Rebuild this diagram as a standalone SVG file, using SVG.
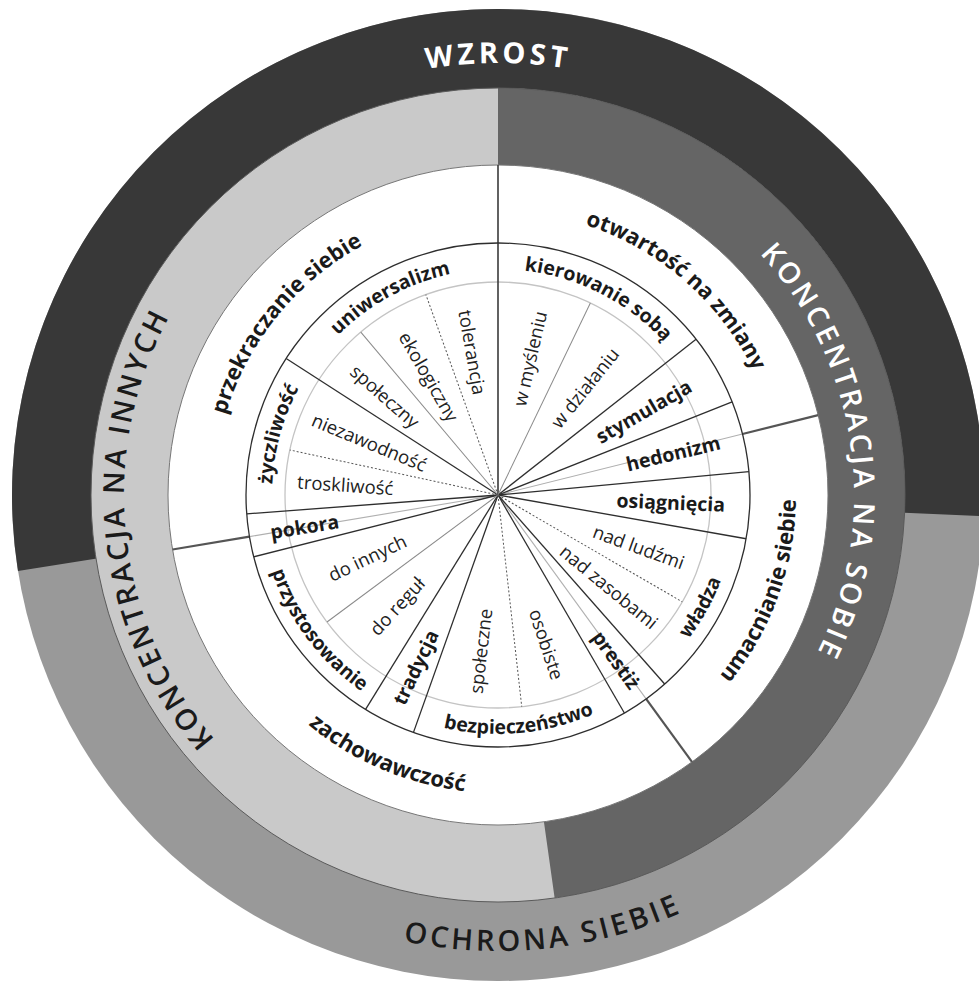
<svg xmlns="http://www.w3.org/2000/svg" xmlns:xlink="http://www.w3.org/1999/xlink" width="979" height="982" viewBox="0 0 979 982">
<style>
.t{font-family:"Open Sans","Noto Sans","Liberation Sans",sans-serif;fill:#1a1a1a}
.big{font-size:22px;font-weight:700}
.val{font-size:19.5px;font-weight:700}
.sub{font-size:18.5px;font-weight:400;fill:#222}
.ring{font-size:29px;font-weight:600;letter-spacing:3.3px}
.w{fill:#ffffff}
.vb{stroke:#2e2e2e;stroke-width:1.3}
.ss{stroke:#8a8a8a;stroke-width:1}
.sd{stroke:#555;stroke-width:1;stroke-dasharray:2 2}
.mi{stroke:#b0b0b0;stroke-width:1.1}
.mo{stroke:#555;stroke-width:2.2}
</style>
<defs>
<path id="cw226" d="M272,495 A226,226 0 0 1 724,495"/>
<path id="ccw239" d="M259,495 A239,239 0 0 0 737,495"/>
<path id="cw284" d="M214,495 A284,284 0 0 1 782,495"/>
<path id="ccw298" d="M200,495 A298,298 0 0 0 796,495"/>
<path id="cw432" d="M66,495 A432,432 0 0 1 930,495"/>
<path id="ccw456" d="M42,495 A456,456 0 0 0 954,495"/>
<path id="cw356" d="M142,495 A356,356 0 0 1 854,495"/>
<path id="cw374" d="M124,495 A374,374 0 0 1 872,495"/>
</defs>

<g id="outer-ring">
<circle cx="498" cy="495" r="486" fill="#999999"/>
<path d="M498,495 L17.98,571.03 A486,486 0 1 1 983.54,516.20 Z" fill="#383838"/>
</g>
<g id="middle-ring">
<circle cx="498" cy="495" r="407" fill="#c9c9c9"/>
<path d="M498,495 L498,88 A407,407 0 0 1 554.64,898.04 Z" fill="#656565"/>
<circle cx="498" cy="495" r="407" fill="none" stroke="#5a5a5a" stroke-width="1"/>
</g>
<g id="white-disc">
<circle cx="498" cy="495" r="330" fill="#ffffff" stroke="#777" stroke-width="1"/>
<circle cx="498" cy="495" r="213" fill="none" stroke="#c4c4c4" stroke-width="1.3"/>
</g>

<g id="connectors">
<g class="mi">
<line x1="498" y1="495" x2="750" y2="495" transform="rotate(346 498 495)"/>
<line x1="498" y1="495" x2="750" y2="495" transform="rotate(54 498 495)"/>
<line x1="498" y1="495" x2="750" y2="495" transform="rotate(170.5 498 495)"/>
</g>
<g class="mo">
<line x1="750" y1="495" x2="828" y2="495" transform="rotate(346 498 495)"/>
<line x1="750" y1="495" x2="828" y2="495" transform="rotate(54 498 495)"/>
<line x1="750" y1="495" x2="828" y2="495" transform="rotate(170.5 498 495)"/>
</g>
<line x1="498" y1="495" x2="498" y2="165" stroke="#3a3a3a" stroke-width="1.6"/>
<g class="vb">
<line x1="498" y1="495" x2="750" y2="495" transform="rotate(321.8 498 495)"/>
<line x1="498" y1="495" x2="750" y2="495" transform="rotate(338.3 498 495)"/>
<line x1="498" y1="495" x2="750" y2="495" transform="rotate(354.7 498 495)"/>
<line x1="498" y1="495" x2="750" y2="495" transform="rotate(10 498 495)"/>
<line x1="498" y1="495" x2="750" y2="495" transform="rotate(48.6 498 495)"/>
<line x1="498" y1="495" x2="750" y2="495" transform="rotate(59.9 498 495)"/>
<line x1="498" y1="495" x2="750" y2="495" transform="rotate(109.6 498 495)"/>
<line x1="498" y1="495" x2="750" y2="495" transform="rotate(121.7 498 495)"/>
<line x1="498" y1="495" x2="750" y2="495" transform="rotate(165.8 498 495)"/>
<line x1="498" y1="495" x2="750" y2="495" transform="rotate(175.7 498 495)"/>
<line x1="498" y1="495" x2="750" y2="495" transform="rotate(212.8 498 495)"/>
</g>
<g class="ss">
<line x1="498" y1="495" x2="711" y2="495" transform="rotate(295.7 498 495)"/>
<line x1="498" y1="495" x2="711" y2="495" transform="rotate(229.9 498 495)"/>
<line x1="498" y1="495" x2="711" y2="495" transform="rotate(143.4 498 495)"/>
</g>
<g class="sd">
<line x1="498" y1="495" x2="711" y2="495" transform="rotate(250.2 498 495)"/>
<line x1="498" y1="495" x2="711" y2="495" transform="rotate(192.2 498 495)"/>
<line x1="498" y1="495" x2="711" y2="495" transform="rotate(30.1 498 495)"/>
<line x1="498" y1="495" x2="711" y2="495" transform="rotate(83.6 498 495)"/>
</g>
<circle cx="498" cy="495" r="252" fill="none" stroke="#2e2e2e" stroke-width="1.3"/>
</g>

<g id="ring-labels">
<text class="t ring w" style="font-weight:700;letter-spacing:4px"><textPath href="#cw432" startOffset="50%" text-anchor="middle">WZROST</textPath></text>
<text class="t ring" style="letter-spacing:3.4px" transform="rotate(-6 498 495)"><textPath href="#ccw456" startOffset="50%" text-anchor="middle">OCHRONA SIEBIE</textPath></text>
<text class="t ring w" transform="rotate(82 498 495)"><textPath href="#cw356" startOffset="50%" text-anchor="middle">KONCENTRACJA NA SOBIE</textPath></text>
<text class="t ring" style="letter-spacing:2.9px" transform="rotate(-96 498 495)"><textPath href="#cw374" startOffset="50%" text-anchor="middle">KONCENTRACJA NA INNYCH</textPath></text>
</g>

<g id="higher-order">
<text class="t big" transform="rotate(-51 498 495)"><textPath href="#cw284" startOffset="50%" text-anchor="middle">przekraczanie siebie</textPath></text>
<text class="t big" transform="rotate(41 498 495)"><textPath href="#cw284" startOffset="50%" text-anchor="middle">otwartość na zmiany</textPath></text>
<text class="t big" transform="rotate(-70 498 495)"><textPath href="#ccw298" startOffset="50%" text-anchor="middle">umacnianie siebie</textPath></text>
<text class="t big" transform="rotate(23 498 495)"><textPath href="#ccw298" startOffset="50%" text-anchor="middle">zachowawczość</textPath></text>
</g>

<g id="values">
<text class="t val" transform="rotate(-28.6 498 495)"><textPath href="#cw226" startOffset="50%" text-anchor="middle">uniwersalizm</textPath></text>
<text class="t val" transform="rotate(27 498 495)"><textPath href="#cw226" startOffset="50%" text-anchor="middle">kierowanie sobą</textPath></text>
<text class="t val" transform="rotate(-74.5 498 495)"><textPath href="#cw226" startOffset="50%" text-anchor="middle">życzliwość</textPath></text>
<text class="t val" transform="rotate(-61 498 495)"><textPath href="#ccw239" startOffset="50%" text-anchor="middle">władza</textPath></text>
<text class="t val" transform="rotate(-5.25 498 495)"><textPath href="#ccw239" startOffset="50%" text-anchor="middle">bezpieczeństwo</textPath></text>
<text class="t val" transform="rotate(53 498 495)"><textPath href="#ccw239" startOffset="50%" text-anchor="middle">przystosowanie</textPath></text>
<text class="t val" text-anchor="middle" dominant-baseline="central" transform="rotate(-30 498 495) translate(666 495)">stymulacja</text>
<text class="t val" text-anchor="middle" dominant-baseline="central" transform="rotate(-13.5 498 495) translate(678 495)">hedonizm</text>
<text class="t val" text-anchor="middle" dominant-baseline="central" transform="rotate(2.35 498 495) translate(671 495)">osiągnięcia</text>
<text class="t val" text-anchor="middle" dominant-baseline="central" transform="rotate(54.25 498 495) translate(701 495)">prestiż</text>
<text class="t val" text-anchor="middle" dominant-baseline="central" transform="rotate(115.65 498 495) translate(689 495) rotate(180)">tradycja</text>
<text class="t val" text-anchor="middle" dominant-baseline="central" transform="rotate(170.8 498 495) translate(694 495) rotate(180)">pokora</text>
</g>

<g id="subvalues">
<text class="t sub" text-anchor="middle" dominant-baseline="central" transform="rotate(-77.15 498 495) translate(638 495)">w myśleniu</text>
<text class="t sub" text-anchor="middle" dominant-baseline="central" transform="rotate(-51.25 498 495) translate(636 495)">w działaniu</text>
<text class="t sub" text-anchor="middle" dominant-baseline="central" transform="rotate(20 498 495) translate(648 495)">nad ludźmi</text>
<text class="t sub" text-anchor="middle" dominant-baseline="central" transform="rotate(39.35 498 495) translate(642 495)">nad zasobami</text>
<text class="t sub" text-anchor="middle" dominant-baseline="central" transform="rotate(71.75 498 495) translate(655 495)">osobiste</text>
<text class="t sub" text-anchor="middle" dominant-baseline="central" transform="rotate(96.6 498 495) translate(655 495) rotate(180)">społeczne</text>
<text class="t sub" text-anchor="middle" dominant-baseline="central" transform="rotate(132.5 498 495) translate(648 495) rotate(180)">do reguł</text>
<text class="t sub" text-anchor="middle" dominant-baseline="central" transform="rotate(154.6 498 495) translate(643 495) rotate(180)">do innych</text>
<text class="t sub" text-anchor="middle" dominant-baseline="central" transform="rotate(184 498 495) translate(651 495) rotate(180)">troskliwość</text>
<text class="t sub" text-anchor="middle" dominant-baseline="central" transform="rotate(202.5 498 495) translate(637 495) rotate(180)">niezawodność</text>
<text class="t sub" text-anchor="middle" dominant-baseline="central" transform="rotate(221.4 498 495) translate(648 495) rotate(180)">społeczny</text>
<text class="t sub" text-anchor="middle" dominant-baseline="central" transform="rotate(240 498 495) translate(635 495) rotate(180)">ekologiczny</text>
<text class="t sub" text-anchor="middle" dominant-baseline="central" transform="rotate(260.1 498 495) translate(643 495) rotate(180)">tolerancja</text>
</g>
</svg>
